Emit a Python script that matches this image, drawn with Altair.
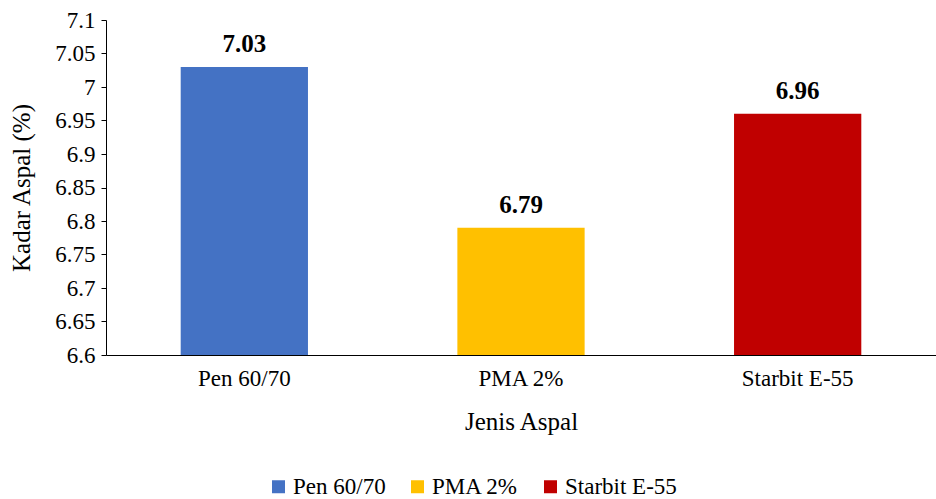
import altair as alt
import pandas as pd

categories = ["Pen 60/70", "PMA 2%", "Starbit E-55"]
values = [7.03, 6.79, 6.96]
colors = ["#4472C4", "#FFC000", "#C00000"]

df = pd.DataFrame({"Jenis": categories, "Kadar": values, "Label": [f"{v:.2f}" for v in values]})

FONT = "Liberation Serif"

x = alt.X("Jenis:N", sort=categories, title="Jenis Aspal",
          scale=alt.Scale(paddingInner=0.54, paddingOuter=0.27),
          axis=alt.Axis(labelAngle=0, ticks=False, tickSize=0, labelFontSize=23, titleFontSize=25,
                        labelPadding=12, titlePadding=19, domainColor="#000000",
                        labelColor="#000000", titleColor="#000000", labelFont=FONT,
                        titleFont=FONT, titleFontWeight="normal"))
y = alt.Y("Kadar:Q", title="Kadar Aspal (%)",
          scale=alt.Scale(domain=[6.6, 7.1], zero=False, nice=False),
          axis=alt.Axis(values=[round(6.6 + 0.05 * i, 2) for i in range(11)], format="~g",
                        grid=False, tickSize=5, tickColor="#000000", domainColor="#000000",
                        labelFontSize=23, titleFontSize=25, labelPadding=6, titlePadding=20,
                        labelColor="#000000", titleColor="#000000", labelFont=FONT,
                        titleFont=FONT, titleFontWeight="normal"))

base = alt.Chart(df).encode(x=x, y=y)

bars = base.mark_bar(clip=True).encode(
    color=alt.Color("Jenis:N", sort=categories,
                    scale=alt.Scale(domain=categories, range=colors),
                    legend=alt.Legend(orient="none", direction="horizontal", legendX=161,
                                      legendY=455, title=None, symbolType="square",
                                      symbolSize=169, symbolStrokeWidth=0, labelFontSize=23,
                                      labelFont=FONT, labelColor="#000000",
                                      columnPadding=20, labelOffset=3, padding=0))
)

text = base.mark_text(dy=-23, fontSize=25, fontWeight="bold", font=FONT, color="#000000").encode(
    text="Label:N"
)

chart = (bars + text).properties(
    width=830, height=335,
    autosize=alt.AutoSizeParams(type="none"),
    padding={"left": 106, "top": 20, "right": 0, "bottom": 144},
).configure(background="white", font=FONT).configure_view(stroke=None).configure_axis(
    labelFont=FONT, titleFont=FONT
).configure_legend(labelFont=FONT)

chart.save("out.html", embed_options={"renderer": "svg", "actions": False})
